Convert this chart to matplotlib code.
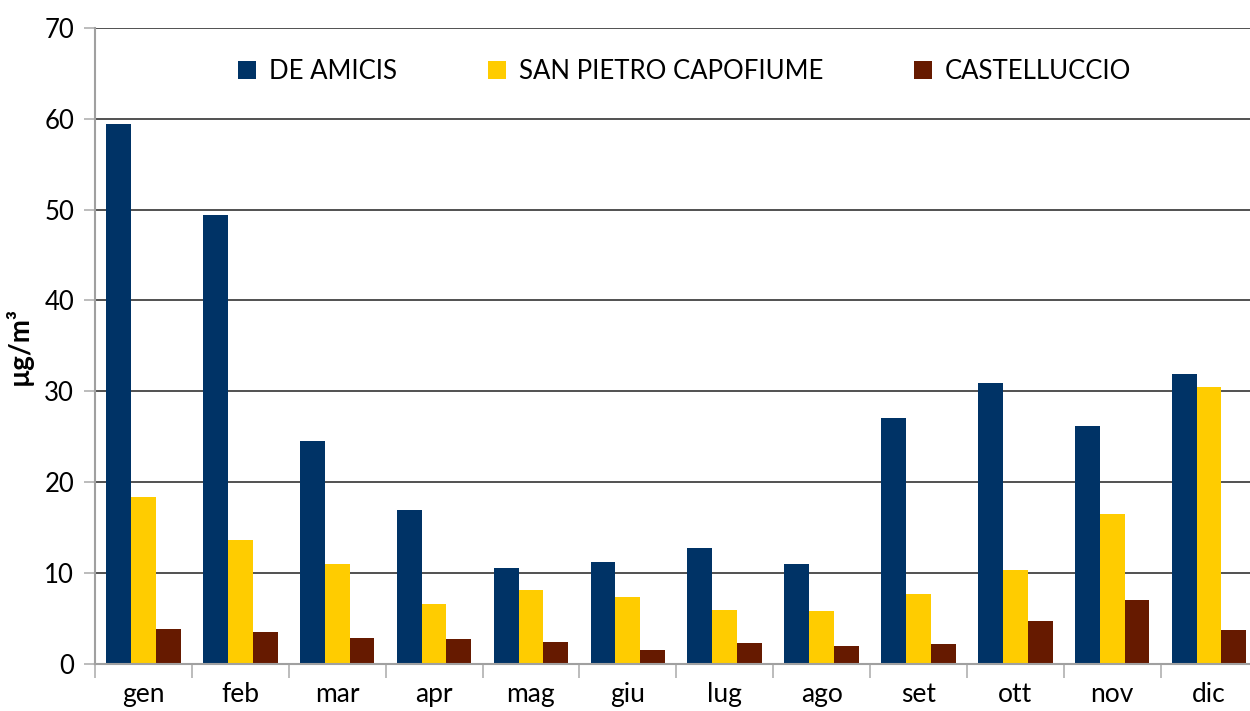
import matplotlib.pyplot as plt
import numpy as np

months = ["gen", "feb", "mar", "apr", "mag", "giu", "lug", "ago", "set", "ott", "nov", "dic"]
stations = ["DE AMICIS", "SAN PIETRO CAPOFIUME", "CASTELLUCCIO"]
de_amicis = [59.4, 49.4, 24.5, 16.9, 10.6, 11.2, 12.8, 11.0, 27.1, 30.9, 26.2, 31.9]
san_pietro = [18.4, 13.6, 11.0, 6.6, 8.1, 7.4, 5.9, 5.8, 7.7, 10.3, 16.5, 30.5]
castelluccio = [3.9, 3.5, 2.9, 2.8, 2.4, 1.6, 2.3, 2.0, 2.2, 4.7, 7.1, 3.7]
colors = ["#003366", "#FFCC00", "#661A00"]

plt.rcParams["font.family"] = ["Lato", "DejaVu Sans"]

fig = plt.figure(figsize=(12.5, 7.11), dpi=100)
ax = fig.add_axes([0.076, 0.066, 0.93, 0.895])

x = np.arange(len(months))
w = 0.256
for i, (vals, name) in enumerate(zip([de_amicis, san_pietro, castelluccio], stations)):
    ax.bar(x + (i - 1) * w, vals, w, color=colors[i], label=name, zorder=3)

ax.set_xlim(-0.5, len(months) - 0.5)
ax.set_ylim(0, 70)
ax.set_yticks(range(0, 71, 10))
ax.set_xticks(x)
ax.set_xticklabels(months)
ax.set_xticks(np.arange(-0.5, len(months)), minor=True)
ax.tick_params(axis="x", which="major", length=0, pad=13, labelsize=19)
ax.tick_params(axis="x", which="minor", length=10, color="#B0B0B0", width=1.2)
ax.tick_params(axis="y", length=8, color="#B0B0B0", width=1.2, labelsize=18.5, pad=7)

ax.grid(axis="y", color="#222222", linewidth=1.1, zorder=0)
for s in ["top", "right"]:
    ax.spines[s].set_visible(False)
ax.spines["left"].set_color("#A0A0A0")
ax.spines["left"].set_linewidth(1.5)
ax.spines["bottom"].set_color("#A0A0A0")
ax.spines["bottom"].set_linewidth(1.5)
ax.spines["bottom"].set_zorder(4)

ax.set_ylabel("µg/m³", fontsize=20, fontweight="bold", labelpad=8)

ax.legend(loc="upper left", bbox_to_anchor=(0.103, 0.987), ncol=3, frameon=False,
          fontsize=18.5, handlelength=0.7, handleheight=0.7, columnspacing=3.55,
          handletextpad=0.5)

fig.savefig("out.png", dpi=100)
